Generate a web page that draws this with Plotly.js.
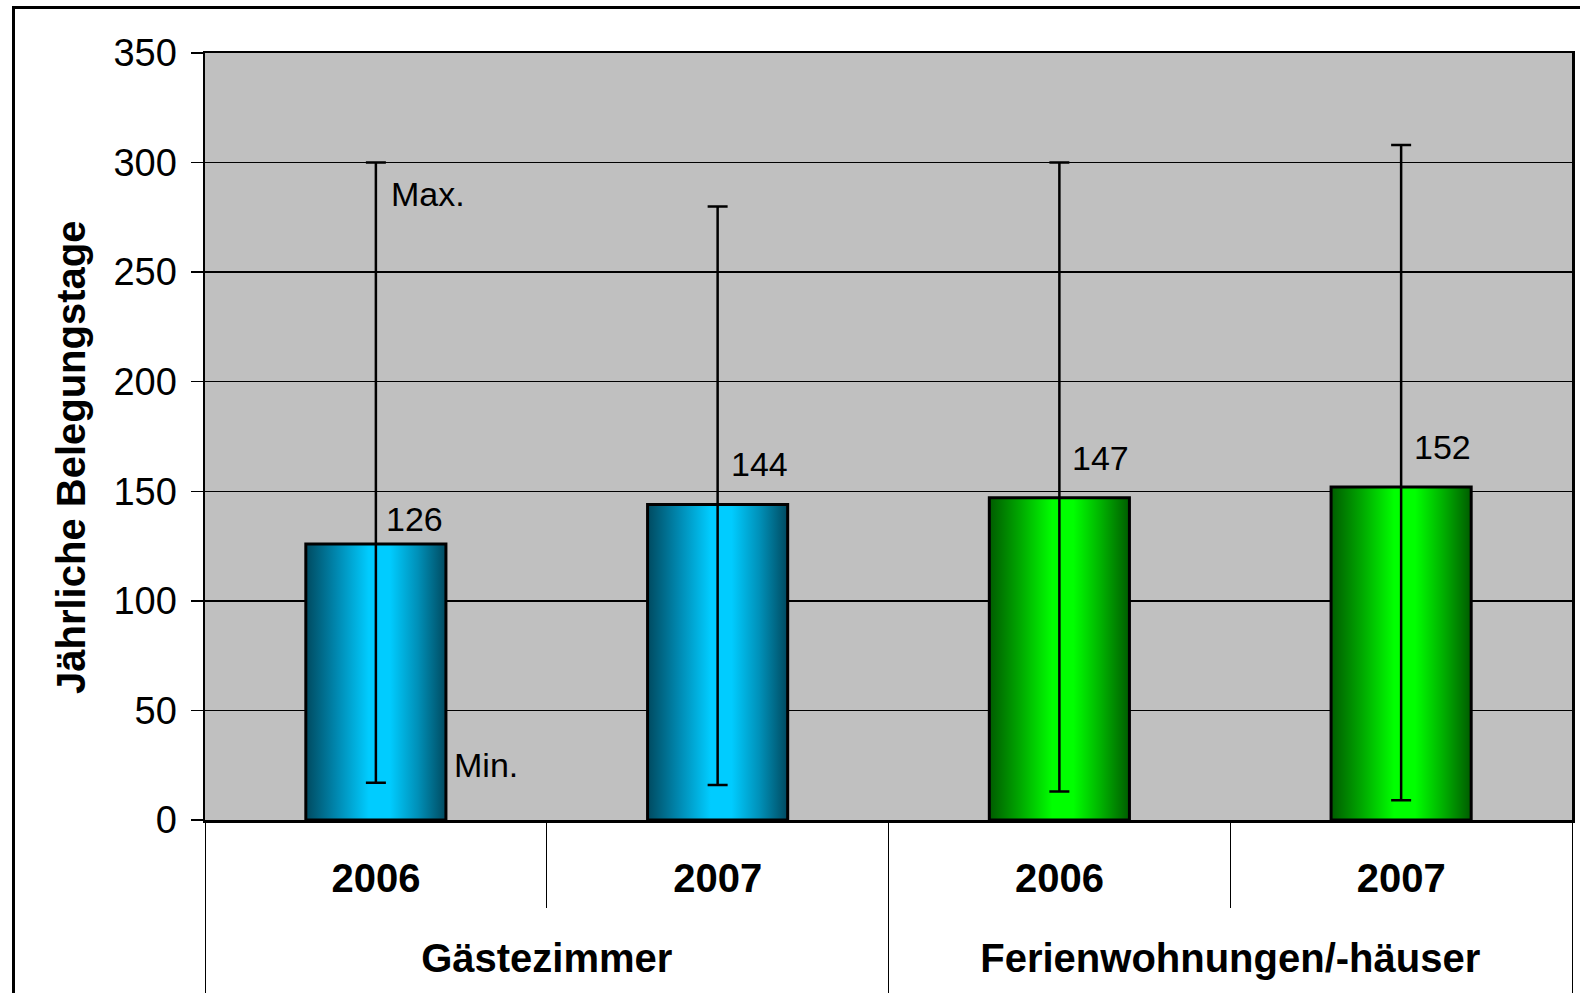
<!DOCTYPE html>
<html>
<head>
<meta charset="utf-8">
<script src="https://cdn.plot.ly/plotly-3.0.1.min.js"></script>
<style>
  html, body { margin: 0; padding: 0; background: #ffffff; overflow: hidden; }
  #chart { width: 1580px; height: 993px; position: relative; }
  #frame { position: absolute; left: 12px; top: 6px; width: 3000px; height: 3000px;
           border: 3px solid #000; pointer-events: none; }
</style>
</head>
<body>
<div id="chart"></div>
<div id="frame"></div>
<script>
// ---- data ----
const groups = ['Gästezimmer', 'Gästezimmer', 'Ferienwohnungen/-häuser', 'Ferienwohnungen/-häuser'];
const years = ['2006', '2007', '2006', '2007'];
const avgDays = [126, 144, 147, 152];
const maxDays = [300, 280, 300, 308];
const minDays = [17, 16, 13, 9];
const yTitle = 'Jährliche Belegungstage';
const maxLabel = 'Max.';
const minLabel = 'Min.';

// ---- style ----
const FONT = 'Liberation Sans, Arial, Helvetica, sans-serif';
const baseColors = ['#00ccff', '#00ccff', '#00ff00', '#00ff00'];
const gradStops = {
  '#00ccff': [[0, '#004a60'], [0.22, '#0088b0'], [0.45, '#00ccff'], [0.6, '#00ccff'], [0.8, '#0090b8'], [1, '#004a60']],
  '#00ff00': [[0, '#005c00'], [0.22, '#00a800'], [0.45, '#00ff00'], [0.6, '#00ff00'], [0.8, '#00b000'], [1, '#005c00']]
};
const labelLift = [4, 19, 19, 19];
// empty extra lines: open the gap to the group row and let the dividers reach the bottom edge
const yearSpacer = '<br><span style="font-size:52px">\u00a0</span>';
const groupSpacer = '<br><span style="font-size:16px">\u00a0</span>';

const trace = {
  type: 'bar',
  x: [groups.map(g => g + groupSpacer), years.map(y => y + yearSpacer)],
  y: avgDays,
  marker: { color: baseColors, line: { color: '#000', width: 3 } },
  error_y: {
    type: 'data', symmetric: false, visible: true,
    array: maxDays.map((m, i) => m - avgDays[i]),
    arrayminus: minDays.map((m, i) => avgDays[i] - m),
    color: '#000', thickness: 2.5, width: 10
  },
  hoverinfo: 'none'
};

const annotations = avgDays.map((v, i) => ({
  x: i, y: v, xref: 'x', yref: 'y', text: String(v), showarrow: false,
  xanchor: 'left', yanchor: 'bottom', xshift: i === 0 ? 8 : 11, yshift: labelLift[i],
  font: { family: FONT, size: 34, color: '#000' }
}));
annotations.push({
  x: 0, y: maxDays[0], xref: 'x', yref: 'y', text: maxLabel, showarrow: false,
  xanchor: 'left', yanchor: 'top', xshift: 13, yshift: -10,
  font: { family: FONT, size: 34, color: '#000' }
});
annotations.push({
  x: 0, y: minDays[0], xref: 'x', yref: 'y', text: minLabel, showarrow: false,
  xanchor: 'left', yanchor: 'bottom', xshift: 76, yshift: -3,
  font: { family: FONT, size: 34, color: '#000' }
});
// y-axis title (placed slightly below the plot centre, as in the original)
annotations.push({
  x: -0.098, y: 0.472, xref: 'paper', yref: 'paper', text: yTitle, showarrow: false,
  textangle: -90, xanchor: 'center', yanchor: 'middle',
  font: { family: FONT, size: 40, color: '#000', weight: 'bold' }
});

const layout = {
  width: 1580, height: 993,
  margin: { l: 205, r: 8, t: 53, b: 173, pad: 0 },
  paper_bgcolor: 'rgba(0,0,0,0)',
  plot_bgcolor: '#c0c0c0',
  bargap: 0.59,
  showlegend: false,
  font: { family: FONT, color: '#000' },
  xaxis: {
    type: 'multicategory',
    showline: true, linecolor: '#000', linewidth: 2.5, mirror: true,
    ticks: 'outside', tickson: 'boundaries', ticklen: 85, tickwidth: 1, tickcolor: '#000',
    ticklabelstandoff: 21,
    tickfont: { family: FONT, size: 40, color: '#000', weight: 'bold' },
    showdividers: true, dividercolor: '#000', dividerwidth: 1,
    showgrid: false, zeroline: false, fixedrange: true
  },
  yaxis: {
    range: [0, 350], tick0: 0, dtick: 50,
    showgrid: true, gridcolor: '#000', gridwidth: 1.3,
    zeroline: false,
    showline: true, linecolor: '#000', linewidth: 2.5, mirror: true,
    ticks: 'outside', ticklen: 12, tickwidth: 1.3, tickcolor: '#000',
    ticklabelstandoff: 6,
    tickfont: { family: FONT, size: 38, color: '#000' },
    fixedrange: true
  },
  annotations: annotations
};

Plotly.newPlot('chart', [trace], layout, { staticPlot: true, displayModeBar: false }).then(function (gd) {
  const svgNS = 'http://www.w3.org/2000/svg';
  const defs = gd.querySelector('.main-svg defs');
  Object.keys(gradStops).forEach(function (key, k) {
    const lg = document.createElementNS(svgNS, 'linearGradient');
    lg.setAttribute('id', 'barGrad' + k);
    lg.setAttribute('x1', '0'); lg.setAttribute('y1', '0');
    lg.setAttribute('x2', '1'); lg.setAttribute('y2', '0');
    gradStops[key].forEach(function (s) {
      const st = document.createElementNS(svgNS, 'stop');
      st.setAttribute('offset', s[0]);
      st.setAttribute('stop-color', s[1]);
      lg.appendChild(st);
    });
    defs.appendChild(lg);
  });
  const keys = Object.keys(gradStops);
  gd.querySelectorAll('.barlayer .trace .point path').forEach(function (p, i) {
    const k = keys.indexOf(baseColors[i]);
    if (k >= 0) p.style.fill = 'url(#barGrad' + k + ')';
  });
});
</script>
</body>
</html>
